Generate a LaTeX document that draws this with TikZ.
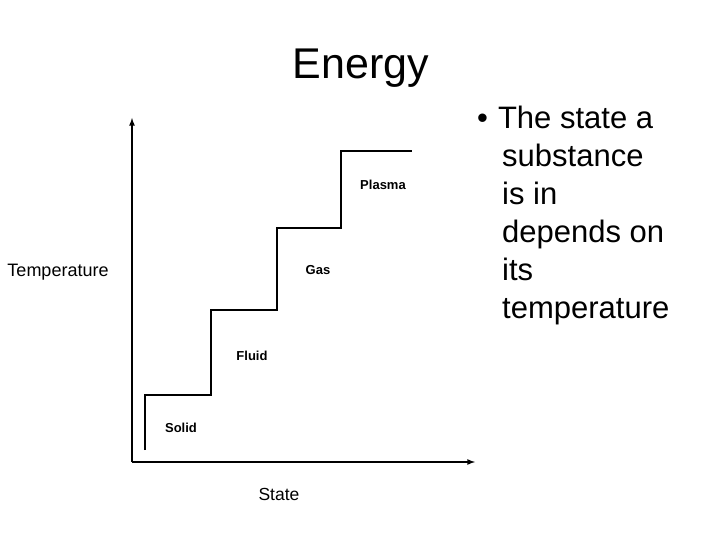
\documentclass[tikz,border=0pt]{standalone}
\usepackage{fontspec}
\setmainfont{Liberation Sans}
\begin{document}
\begin{tikzpicture}[x=1pt,y=-1pt,
  lbl/.style={font=\fontsize{13}{16}\selectfont\bfseries, inner sep=0pt},
  axis/.style={line width=1.6pt,-latex},
  stair/.style={line width=2.8pt}]
\useasboundingbox[fill=white] (0,0) rectangle (720,540);
\node[font=\fontsize{43}{48}\selectfont] (title) at (361,68) {Energy};
\coordinate (o) at (132,462);
\coordinate (ytop) at (132,118);
\coordinate (xend) at (475,462);
\draw[axis] (o) -- (ytop);
\draw[axis] (o) -- (xend);
\coordinate (s0) at (145,450);
\coordinate (s1) at (145,395);
\coordinate (s2) at (211,395);
\coordinate (s3) at (211,310);
\coordinate (s4) at (277,310);
\coordinate (s5) at (277,228);
\coordinate (s6) at (341,228);
\coordinate (s7) at (341,151);
\coordinate (s8) at (412,151);
\draw[stair] (s0) -- (s1) -- (s2) -- (s3) -- (s4) -- (s5) -- (s6) -- (s7) -- (s8);
\node[lbl] (solid) at (181,428) {Solid};
\node[lbl] (fluid) at (252,356) {Fluid};
\node[lbl] (gas) at (318,270) {Gas};
\node[lbl] (plasma) at (383,185) {Plasma};
\node[font=\fontsize{18}{20}\selectfont] (temp) at (58,272) {Temperature};
\node[font=\fontsize{17.5}{20}\selectfont] (state) at (279,494) {State};
\node[anchor=north west, align=left, inner sep=0pt, font=\fontsize{31}{38}\selectfont] (bullet) at (477,106)
  {\textbullet\hspace{10pt}The state a\\
   \hspace{25pt}substance\\ \hspace{25pt}is in\\ \hspace{25pt}depends on\\
   \hspace{25pt}its\\ \hspace{25pt}temperature};
\end{tikzpicture}
\end{document}
